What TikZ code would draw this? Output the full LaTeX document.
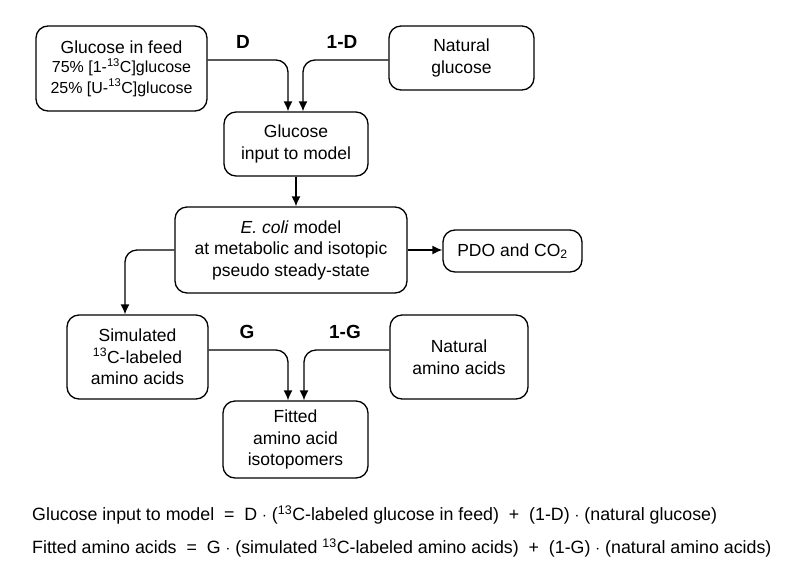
\documentclass[tikz,border=0pt]{standalone}
\usepackage{fontspec}
\setmainfont{Liberation Sans}
\usetikzlibrary{arrows.meta,positioning}

\begin{document}
\begin{tikzpicture}
    [
        x=1pt, y=-1pt,
        Box/.style={rectangle,rounded corners=12pt,draw,line width=1.3pt,align=center,inner sep=2pt,font=\fontsize{17.5}{21.5}\selectfont},
        Weight/.style={font=\fontsize{19}{22}\selectfont\bfseries},
        Flow/.style={-{Latex[length=10pt,width=9pt]},line width=1.3pt,rounded corners=12pt},
        Equation/.style={anchor=west,inner sep=0pt,font=\fontsize{17.8}{21}\selectfont}
    ]
    \useasboundingbox (0,0) rectangle (800,582);

    \node[Box,minimum width=171pt,minimum height=85pt] (glucose_feed) at (121.5,68.5)
        {Glucose in feed\\[-2pt]{\fontsize{16}{18.5}\selectfont 75\% [1-\textsuperscript{13}C]glucose}\\[-1pt]{\fontsize{16}{18.5}\selectfont 25\% [U-\textsuperscript{13}C]glucose}};
    \node[Box,minimum width=145pt,minimum height=64pt] (natural_glucose) at (461.5,58) {Natural\\glucose};
    \node[Box,minimum width=144pt,minimum height=64pt] (glucose_input) at (296,144) {Glucose\\input to model};
    \node[Box,minimum width=232pt,minimum height=86pt] (ecoli_model) at (291,250)
        {\textit{E. coli} model\\at metabolic and isotopic\\pseudo steady-state};
    \node[Box,minimum width=139pt,minimum height=42pt] (pdo_co2) at (512.5,251) {PDO and CO\textsubscript{2}};
    \node[Box,minimum width=141pt,minimum height=84pt] (simulated_aa) at (137.5,357)
        {Simulated\\\textsuperscript{13}C-labeled\\amino acids};
    \node[Box,minimum width=138pt,minimum height=84pt] (natural_aa) at (459,357) {Natural\\amino acids};
    \node[Box,minimum width=145pt,minimum height=77pt] (fitted_aa) at (295.5,439.5)
        {Fitted\\amino acid\\isotopomers};

    \node[Weight] (weight_D) at (243,42) {D};
    \node[Weight] (weight_1D) at (342,42) {1-D};
    \node[Weight] (weight_G) at (247,332) {G};
    \node[Weight] (weight_1G) at (345,332) {1-G};

    \draw[Flow] ([yshift=8.5pt]glucose_feed.east) -| ([xshift=-8pt]glucose_input.north);
    \draw[Flow] ([yshift=-2pt]natural_glucose.west) -| ([xshift=7pt]glucose_input.north);
    \draw[Flow] (glucose_input.south) -- (glucose_input.south |- ecoli_model.north);
    \draw[Flow] (ecoli_model.east) -- (pdo_co2.west |- ecoli_model.east);
    \draw[Flow] (ecoli_model.west) -| ([xshift=-12.5pt]simulated_aa.north);
    \draw[Flow] ([yshift=7pt]simulated_aa.east) -| ([xshift=-7.5pt]fitted_aa.north);
    \draw[Flow] ([yshift=7pt]natural_aa.west) -| ([xshift=8.5pt]fitted_aa.north);

    \node[Equation] (equation_glucose) at (32,515)
        {Glucose input to model\ \ =\ \ D $\cdot$ (\textsuperscript{13}C-labeled glucose in feed)\ \ +\ \ (1-D) $\cdot$ (natural glucose)};
    \node[Equation] (equation_fitted) at (32,548)
        {Fitted amino acids\ \ =\ \ G $\cdot$ (simulated \textsuperscript{13}C-labeled amino acids)\ \ +\ \ (1-G) $\cdot$ (natural amino acids)};
\end{tikzpicture}
\end{document}
